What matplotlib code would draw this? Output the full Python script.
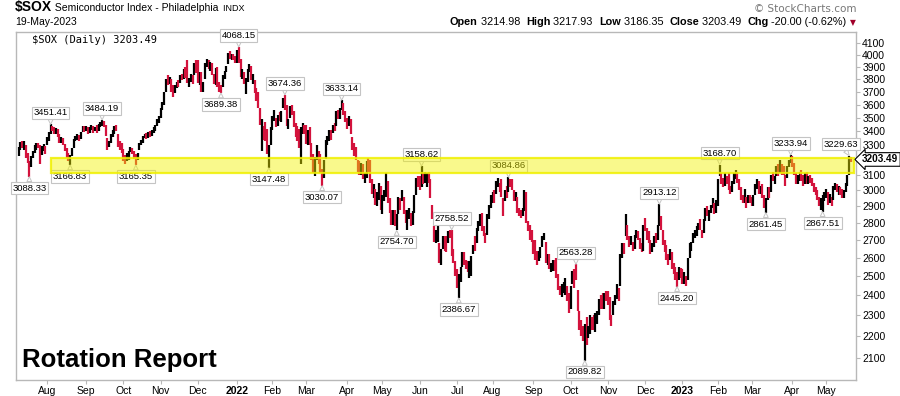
import numpy as np
import pandas as pd
import matplotlib
matplotlib.use('Agg')
import matplotlib.pyplot as plt
from matplotlib.patches import Rectangle
from matplotlib.ticker import NullLocator

# ---- data ----
start_date = '2021-07-09'
end_date = '2023-05-19'
holidays = ['2021-09-06', '2021-11-25', '2021-12-24', '2022-01-17', '2022-02-21',
            '2022-04-15', '2022-05-30', '2022-06-20', '2022-07-04', '2022-09-05',
            '2022-11-24', '2022-12-26', '2023-01-02', '2023-01-16', '2023-02-20',
            '2023-04-07']

# one line per month
close_ = [
    3275, 3310, 3290, 3305, 3230, 3190, 3160, 3220, 3255, 3290, 3310, 3300, 3240, 3280, 3295, 3270,
    3340, 3390, 3430, 3420, 3395, 3410, 3370, 3340, 3350, 3310, 3290, 3230, 3205, 3225, 3275, 3340, 3355, 3370, 3345, 3390, 3430, 3410,
    3420, 3400, 3425, 3440, 3405, 3420, 3395, 3440, 3455, 3470, 3450, 3380, 3290, 3310, 3370, 3400, 3430, 3410, 3300, 3290, 3260,
    3230, 3190, 3240, 3255, 3275, 3250, 3215, 3205, 3240, 3310, 3330, 3360, 3375, 3365, 3390, 3370, 3400, 3415, 3440, 3485, 3500,
    3560, 3610, 3690, 3790, 3780, 3800, 3720, 3680, 3740, 3770, 3760, 3820, 3810, 3860, 3830, 3780, 3800, 3830, 3780, 3920, 3870,
    3780, 3840, 3720, 3760, 3920, 3950, 3890, 3930, 3850, 3800, 3880, 3760, 3740, 3720, 3820, 3860, 3900, 4010, 3980, 3990, 3970, 3940,
    4030, 3960, 3830, 3850, 3780, 3800, 3870, 3890, 3800, 3830, 3700, 3640, 3580, 3460, 3460, 3370, 3360, 3270, 3280, 3420,
    3500, 3530, 3450, 3510, 3490, 3540, 3640, 3580, 3450, 3460, 3580, 3570, 3440, 3390, 3360, 3290, 3420, 3450, 3430,
    3330, 3400, 3320, 3230, 3120, 3150, 3290, 3210, 3120, 3060, 3190, 3330, 3360, 3400, 3380, 3440, 3420, 3540, 3510, 3560, 3610, 3530, 3480,
    3450, 3500, 3390, 3300, 3290, 3210, 3130, 3110, 3170, 3080, 3090, 3180, 3140, 3060, 2990, 3030, 2920, 2950, 3040, 2890,
    2960, 2980, 3090, 2940, 2900, 2800, 2840, 2790, 2830, 2950, 2900, 2990, 2860, 2840, 2850, 2880, 2800, 2860, 2960, 3070, 3050,
    3030, 3130, 3060, 3080, 3100, 3060, 2960, 2840, 2700, 2730, 2780, 2590, 2640, 2710, 2690, 2650, 2740, 2730, 2620, 2590, 2530,
    2480, 2500, 2530, 2620, 2600, 2550, 2540, 2570, 2600, 2660, 2650, 2760, 2800, 2840, 2760, 2740, 2700, 2840, 2900, 2960,
    2970, 2960, 3050, 3070, 3020, 2980, 2890, 2990, 2960, 3060, 3050, 3030, 2950, 2980, 2880, 2860, 2850, 2870, 2990, 2810, 2770, 2730, 2700,
    2660, 2610, 2590, 2630, 2650, 2710, 2730, 2590, 2600, 2550, 2560, 2580, 2560, 2500, 2450, 2420, 2430, 2440, 2480, 2390, 2330,
    2440, 2520, 2510, 2490, 2340, 2250, 2230, 2200, 2250, 2170, 2240, 2270, 2260, 2250, 2300, 2310, 2370, 2360, 2340, 2400, 2390,
    2370, 2290, 2270, 2360, 2390, 2440, 2380, 2610, 2660, 2640, 2800, 2720, 2690, 2700, 2650, 2720, 2740, 2720, 2660, 2650, 2780,
    2770, 2750, 2690, 2640, 2660, 2710, 2700, 2780, 2810, 2790, 2690, 2650, 2600, 2590, 2640, 2560, 2540, 2500, 2470, 2540, 2530,
    2470, 2500, 2460, 2590, 2660, 2680, 2730, 2750, 2770, 2790, 2770, 2730, 2810, 2880, 2860, 2870, 2900, 2940, 2860, 2930,
    3060, 3140, 3070, 3040, 3100, 3050, 3010, 3000, 3050, 3100, 3120, 3060, 3030, 2950, 2940, 2980, 2920, 2950, 2940,
    2930, 2960, 3030, 3040, 2990, 3020, 2960, 2900, 2920, 3010, 3000, 3090, 3070, 3080, 3150, 3100, 3160, 3140, 3110, 3040, 3150, 3190, 3220,
    3170, 3110, 3060, 3090, 3110, 3070, 3040, 3100, 3060, 3080, 3070, 3050, 3010, 2990, 2950, 2910, 2930, 2950, 2980,
    2990, 2930, 2940, 2920, 3020, 3040, 3000, 3010, 2990, 2960, 2990, 3040, 3090, 3223.49, 3203.49,
]
high_ = [
    3290, 3325, 3335, 3330, 3300, 3250, 3190, 3230, 3265, 3300, 3320, 3320, 3300, 3295, 3310, 3295,
    3360, 3395, 3451.41, 3440, 3430, 3425, 3420, 3385, 3360, 3355, 3310, 3280, 3250, 3235, 3285, 3345, 3365, 3380, 3375, 3395, 3440, 3440,
    3440, 3430, 3430, 3450, 3440, 3435, 3445, 3455, 3470, 3484.19, 3478, 3445, 3350, 3335, 3380, 3410, 3440, 3445, 3380, 3330, 3320,
    3275, 3235, 3250, 3260, 3290, 3285, 3265, 3240, 3250, 3320, 3340, 3365, 3385, 3390, 3395, 3400, 3410, 3430, 3450, 3490, 3510,
    3570, 3620, 3700, 3800, 3830, 3820, 3800, 3750, 3750, 3780, 3790, 3830, 3840, 3880, 3900, 3960, 3810, 3840, 3830, 3930, 3960,
    3960, 3860, 3860, 3780, 3930, 3970, 3960, 3940, 3930, 3840, 3890, 3900, 3780, 3750, 3830, 3870, 3910, 4020, 4030, 4010, 4010, 3990,
    4040, 4068.15, 3970, 3880, 3860, 3810, 3880, 3920, 3910, 3840, 3790, 3730, 3700, 3570, 3490, 3440, 3470, 3420, 3300, 3430,
    3510, 3560, 3500, 3520, 3540, 3550, 3650, 3674.36, 3600, 3490, 3590, 3600, 3550, 3460, 3440, 3420, 3430, 3460, 3450,
    3450, 3410, 3430, 3320, 3240, 3220, 3300, 3260, 3240, 3140, 3200, 3340, 3370, 3410, 3410, 3450, 3460, 3550, 3560, 3570, 3633.14, 3610, 3550,
    3500, 3510, 3490, 3360, 3320, 3290, 3200, 3190, 3180, 3170, 3110, 3190, 3215, 3200, 3070, 3040, 3010, 2990, 3050, 3030,
    2970, 3000, 3110, 3060, 2950, 2880, 2880, 2880, 2850, 2960, 2950, 3000, 2960, 2880, 2880, 2890, 2860, 2870, 2970, 3080, 3090,
    3090, 3158.62, 3110, 3120, 3110, 3120, 3070, 2910, 2780, 2760, 2800, 2680, 2650, 2720, 2720, 2720, 2750, 2755, 2758.52, 2650, 2580,
    2540, 2510, 2550, 2630, 2630, 2590, 2580, 2580, 2610, 2670, 2720, 2770, 2810, 2850, 2860, 2780, 2740, 2850, 2910, 2970,
    2990, 3000, 3060, 3080, 3050, 3070, 2950, 3000, 3030, 3084.86, 3075, 3070, 3000, 2990, 2960, 2890, 2880, 2890, 3000, 2990, 2810, 2790, 2760,
    2700, 2700, 2640, 2640, 2660, 2720, 2740, 2690, 2620, 2620, 2570, 2590, 2590, 2600, 2510, 2450, 2460, 2470, 2490, 2450, 2410,
    2450, 2530, 2540, 2563.28, 2430, 2320, 2280, 2250, 2260, 2290, 2250, 2300, 2290, 2300, 2310, 2320, 2380, 2400, 2410, 2410, 2420,
    2420, 2390, 2300, 2370, 2400, 2460, 2440, 2620, 2680, 2680, 2850, 2790, 2720, 2720, 2690, 2730, 2760, 2750, 2710, 2680, 2790,
    2830, 2770, 2750, 2700, 2680, 2720, 2740, 2790, 2913.12, 2840, 2760, 2700, 2670, 2620, 2650, 2630, 2570, 2550, 2520, 2550, 2545,
    2540, 2520, 2500, 2600, 2680, 2690, 2740, 2760, 2780, 2800, 2820, 2760, 2820, 2890, 2900, 2880, 2910, 2950, 2920, 2940,
    3070, 3168.70, 3110, 3080, 3110, 3090, 3110, 3030, 3060, 3110, 3130, 3120, 3070, 3020, 2970, 3010, 2960, 2970, 2970,
    2960, 2970, 3040, 3070, 3060, 3030, 3040, 2970, 2950, 3020, 3020, 3100, 3120, 3090, 3160, 3170, 3200, 3170, 3160, 3100, 3160, 3200, 3233.94,
    3230, 3180, 3110, 3100, 3120, 3130, 3100, 3110, 3120, 3090, 3100, 3080, 3050, 3020, 3000, 2960, 2950, 2970, 2990,
    3010, 2990, 2980, 2960, 3030, 3050, 3040, 3030, 3020, 3010, 3000, 3050, 3100, 3229.63, 3217.93,
]
low_ = [
    3230, 3270, 3280, 3270, 3215, 3180, 3088.33, 3150, 3215, 3250, 3270, 3280, 3175, 3235, 3265, 3240,
    3300, 3330, 3385, 3400, 3380, 3385, 3360, 3320, 3315, 3300, 3260, 3215, 3195, 3166.83, 3225, 3285, 3330, 3340, 3335, 3345, 3395, 3395,
    3400, 3385, 3390, 3410, 3390, 3400, 3390, 3400, 3430, 3440, 3435, 3370, 3270, 3290, 3320, 3360, 3380, 3400, 3290, 3270, 3250,
    3190, 3170, 3195, 3200, 3255, 3240, 3210, 3165.35, 3200, 3270, 3300, 3320, 3350, 3345, 3355, 3360, 3370, 3390, 3400, 3440, 3460,
    3500, 3560, 3600, 3700, 3750, 3760, 3700, 3660, 3690, 3730, 3740, 3770, 3790, 3800, 3810, 3770, 3740, 3780, 3760, 3830, 3850,
    3770, 3750, 3700, 3700, 3800, 3900, 3880, 3870, 3830, 3760, 3750, 3740, 3700, 3689.38, 3740, 3800, 3860, 3920, 3970, 3960, 3960, 3930,
    3930, 3930, 3820, 3800, 3760, 3680, 3780, 3860, 3790, 3760, 3690, 3630, 3570, 3450, 3260, 3340, 3330, 3240, 3147.48, 3300,
    3410, 3480, 3430, 3440, 3480, 3470, 3570, 3560, 3440, 3420, 3500, 3520, 3430, 3360, 3330, 3280, 3170, 3380, 3380,
    3310, 3300, 3300, 3200, 3110, 3090, 3200, 3170, 3110, 3030.07, 3080, 3210, 3300, 3330, 3340, 3390, 3400, 3440, 3490, 3490, 3560, 3520, 3470,
    3420, 3440, 3380, 3270, 3230, 3200, 3120, 3100, 3100, 3070, 3050, 3080, 3120, 3050, 2980, 2950, 2910, 2900, 2940, 2880,
    2850, 2930, 2960, 2920, 2860, 2790, 2790, 2780, 2754.70, 2850, 2880, 2930, 2850, 2800, 2760, 2820, 2780, 2790, 2860, 2970, 3020,
    3000, 3020, 3040, 3050, 3020, 3050, 2950, 2820, 2690, 2680, 2690, 2570, 2560, 2650, 2640, 2630, 2680, 2710, 2610, 2570, 2500,
    2440, 2386.67, 2470, 2550, 2560, 2540, 2520, 2490, 2500, 2620, 2640, 2680, 2750, 2780, 2750, 2720, 2680, 2730, 2820, 2890,
    2920, 2920, 2980, 3020, 2990, 2960, 2840, 2930, 2950, 2990, 3020, 3000, 2930, 2930, 2860, 2840, 2830, 2840, 2870, 2800, 2750, 2700, 2690,
    2620, 2590, 2560, 2580, 2600, 2660, 2700, 2570, 2560, 2540, 2520, 2530, 2530, 2490, 2430, 2400, 2390, 2410, 2400, 2370, 2310,
    2330, 2460, 2440, 2480, 2320, 2230, 2200, 2180, 2089.82, 2160, 2190, 2210, 2230, 2230, 2220, 2260, 2300, 2330, 2330, 2330, 2370,
    2350, 2280, 2250, 2300, 2350, 2380, 2370, 2450, 2600, 2620, 2720, 2700, 2660, 2670, 2640, 2650, 2710, 2700, 2650, 2630, 2640,
    2750, 2700, 2680, 2620, 2630, 2660, 2680, 2700, 2780, 2760, 2670, 2630, 2590, 2560, 2590, 2540, 2510, 2480, 2445.20, 2480, 2490,
    2460, 2460, 2450, 2480, 2600, 2640, 2680, 2710, 2720, 2760, 2760, 2710, 2740, 2810, 2840, 2810, 2860, 2890, 2850, 2860,
    2900, 3090, 3040, 3020, 3030, 3040, 3000, 2980, 2990, 3040, 3070, 3050, 3000, 2940, 2920, 2920, 2890, 2920, 2920,
    2900, 2900, 2970, 3010, 2980, 2980, 2950, 2890, 2861.45, 2940, 2950, 2990, 3060, 3040, 3090, 3090, 3110, 3100, 3100, 3030, 3080, 3150, 3180,
    3150, 3100, 3040, 3040, 3060, 3060, 3030, 3040, 3040, 3040, 3050, 3030, 2990, 2970, 2940, 2900, 2880, 2867.51, 2930,
    2950, 2910, 2920, 2900, 2940, 3000, 2990, 2970, 2970, 2950, 2950, 2990, 3030, 3100, 3186.35,
]

# labelled swing points
label_dates = ['2021-07-19', '2021-08-04', '2021-08-19', '2021-09-15', '2021-10-12',
               '2021-12-20', '2022-01-04', '2022-01-28', '2022-02-10', '2022-03-14',
               '2022-03-29', '2022-05-12', '2022-06-02', '2022-06-28', '2022-07-05',
               '2022-08-12', '2022-10-06', '2022-10-13', '2022-12-13', '2022-12-28',
               '2023-02-02', '2023-03-13', '2023-03-31', '2023-04-27', '2023-05-18']
label_values = [3088.33, 3451.41, 3166.83, 3484.19, 3165.35,
                3689.38, 4068.15, 3147.48, 3674.36, 3030.07,
                3633.14, 2754.70, 3158.62, 2758.52, 2386.67,
                3084.86, 2563.28, 2089.82, 2913.12, 2445.20,
                3168.70, 2861.45, 3233.94, 2867.51, 3229.63]
label_side = ['low', 'high', 'low', 'high', 'low',
              'low', 'high', 'low', 'high', 'low',
              'high', 'low', 'high', 'high', 'low',
              'high', 'high', 'low', 'high', 'low',
              'high', 'low', 'high', 'low', 'high']

band_low, band_high = 3115, 3215
band_start = '2021-08-05'
y_ticks = list(range(2100, 4200, 100))
last_close = 3203.49

RED = '#d3123c'
GRAY = '#b8b8b8'
FONT = 'Liberation Sans'

# ---- build the bars ----
dates = pd.bdate_range(start_date, end_date)
dates = dates[~dates.isin(pd.to_datetime(holidays))]
close = np.array(close_)
high = np.array(high_)
low = np.array(low_)
assert len(dates) == len(close) == len(high) == len(low), (len(dates), len(close), len(high), len(low))
xs = np.arange(len(dates))
prev = np.r_[close[0], close[:-1]]
cols = np.where(close >= prev, 'black', RED)

W, H = 900, 396
fig = plt.figure(figsize=(W / 100, H / 100), dpi=100)
ax = fig.add_axes([16 / W, 1 - 380 / H, 840 / W, 348 / H])

ax.vlines(xs, low, high, colors=cols, lw=1.6, zorder=2)

ax.set_yscale('log')
ax.set_ylim(2005, 4200)
ax.set_xlim(-1.5, 471.8)

# y axis on the right (the 3200 label sits under the price tag)
ax.yaxis.tick_right()
ax.yaxis.set_minor_locator(NullLocator())
ax.set_yticks(y_ticks)
ax.set_yticklabels(['' if v == 3200 else str(v) for v in y_ticks], fontsize=7.5, family=FONT)
ax.tick_params(axis='y', length=3, width=0.8, color=GRAY, pad=1.5)

# months on the x axis
month_first = pd.Series(xs, index=dates).groupby([dates.year, dates.month]).first()
tick_pos, tick_lab = [], []
for (yr, mo), pos in month_first.items():
    if (yr, mo) == (2021, 7):
        continue
    tick_pos.append(pos)
    tick_lab.append(str(yr) if mo == 1 else pd.Timestamp(yr, mo, 1).strftime('%b'))
ax.set_xticks(tick_pos)
ax.set_xticklabels(tick_lab, fontsize=7.5, family=FONT)
for t in ax.get_xticklabels():
    if t.get_text().isdigit():
        t.set_fontweight('bold')
ax.tick_params(axis='x', length=3, width=0.8, color=GRAY, pad=1.5)

for s in ax.spines.values():
    s.set_color(GRAY)
    s.set_linewidth(1.0)

# swing labels
pos_of = dict(zip(dates.strftime('%Y-%m-%d'), xs))
for d, v, side in zip(label_dates, label_values, label_side):
    xi = pos_of[d]
    dy = 5 if side == 'high' else -5
    dx = -6 if xi > 460 else 0
    ax.annotate(f'{v:.2f}', xy=(xi, v), xytext=(dx, dy), textcoords='offset points',
                ha='center', va='bottom' if side == 'high' else 'top',
                fontsize=6.8, family=FONT, zorder=5,
                bbox=dict(boxstyle='square,pad=0.18', fc='white', ec='#c4c4c4', lw=0.8),
                arrowprops=dict(arrowstyle='wedge,tail_width=0.5,shrink_factor=0.5',
                                fc='white', ec='#c4c4c4', lw=0.7, shrinkA=0, shrinkB=0))

# yellow resistance band (drawn over the bars)
bx0 = pos_of[band_start] - 0.8
ax.add_patch(Rectangle((bx0, band_low), xs[-1] + 1.5 - bx0, band_high - band_low,
                       fc='#f2f200', alpha=0.45, ec='none', zorder=6))
ax.add_patch(Rectangle((bx0, band_low), xs[-1] + 1.5 - bx0, band_high - band_low,
                       fc='none', ec='#f0f000', lw=1.6, alpha=0.85, zorder=6))

# last price tag on the right axis
ax.annotate(f'{last_close:.2f}', xy=(1.0, last_close), xycoords=('axes fraction', 'data'),
            xytext=(4.5, 0), textcoords='offset points', ha='left', va='center',
            fontsize=7.2, fontweight='bold', family=FONT, zorder=10, annotation_clip=False,
            bbox=dict(boxstyle='larrow,pad=0.18', fc='white', ec='black', lw=0.8))

ax.text(6 / 840, 13 / 348, 'Rotation Report', transform=ax.transAxes,
        fontsize=18.5, fontweight='bold', family=FONT, va='baseline', ha='left')

ax.text(16 / 840, 1 - 8 / 348, '$SOX (Daily) 3203.49', transform=ax.transAxes,
        fontsize=7.5, family='DejaVu Sans Mono', va='center', ha='left')

# ---- header text ----
renderer = fig.canvas.get_renderer()


def text_run(x_px, y_px, pieces):
    for s, size, weight, color in pieces:
        t = fig.text(x_px / W, 1 - y_px / H, s, fontsize=size, fontweight=weight,
                     color=color, family=FONT, va='baseline', ha='left')
        x_px += t.get_window_extent(renderer=renderer).width
    return x_px


text_run(15, 11, [('$SOX', 10, 'bold', 'black'),
                  (' Semiconductor Index - Philadelphia', 7.5, 'normal', 'black'),
                  ('  INDX', 6.5, 'normal', 'black')])
fig.text(15 / W, 1 - 25 / H, '19-May-2023', fontsize=7.5, family=FONT, va='baseline')
fig.text(856 / W, 1 - 12 / H, '\u00a9 StockCharts.com', fontsize=7.5, family='DejaVu Sans',
         color='#777777', ha='right', va='baseline')
xe = text_run(450, 25, [('Open', 7.8, 'bold', 'black'), (' 3214.98  ', 7.8, 'normal', 'black'),
                        ('High', 7.8, 'bold', 'black'), (' 3217.93  ', 7.8, 'normal', 'black'),
                        ('Low', 7.8, 'bold', 'black'), (' 3186.35  ', 7.8, 'normal', 'black'),
                        ('Close', 7.8, 'bold', 'black'), (' 3203.49  ', 7.8, 'normal', 'black'),
                        ('Chg', 7.8, 'bold', 'black'), (' -20.00 (-0.62%) ', 7.8, 'normal', 'black')])
fig.text(xe / W, 1 - 25 / H, '\u25bc', fontsize=5.5, family='DejaVu Sans', color='#a0002a',
         va='baseline')

fig.savefig('out.png', dpi=100)
